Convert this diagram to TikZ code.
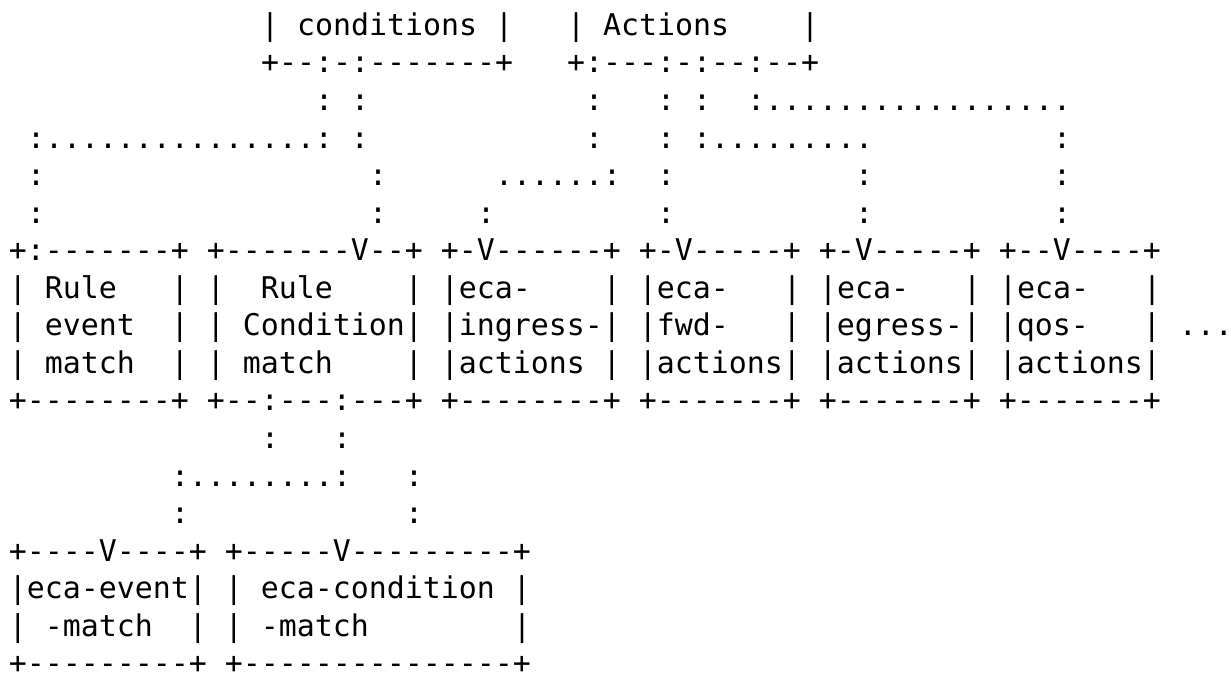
\documentclass[tikz,border=0pt]{standalone}
\usepackage{fontspec}
\newfontfamily\asciimono{DejaVu Sans Mono}
\newcommand\gapc[1]{\hskip#1\fontcharwd\font`\x\relax}
\newcommand\rpt[2]{\foreach \xx in {1,...,#1}{#2}}
\begin{document}
\begin{tikzpicture}[x=1pt,y=1pt,
  asciirow/.style={anchor=base west, inner sep=0pt, outer sep=0pt,
    font=\asciimono\fontsize{29.9pt}{37.6pt}\selectfont, text=black}]
\fill[white] (0,0) rectangle (1231,-674);
\useasboundingbox (0,0) rectangle (1231,-674);
\node[asciirow] (l1)  at (9,-35.3)  {\gapc{14}|~conditions~|\gapc{3}|~Actions\gapc{4}|};
\node[asciirow] (l2)  at (9,-72.9)  {\gapc{14}+--:-:-------+\gapc{3}+:---:-:--:--+};
\node[asciirow] (l3)  at (9,-110.4) {\gapc{17}:~:\gapc{12}:\gapc{3}:~:\gapc{2}:\rpt{17}{.}};
\node[asciirow] (l4)  at (9,-148.0) {\gapc{1}:\rpt{15}{.}:~:\gapc{12}:\gapc{3}:~:\rpt{9}{.}\gapc{10}:};
\node[asciirow] (l5)  at (9,-185.5) {\gapc{1}:\gapc{18}:\gapc{6}\rpt{6}{.}:\gapc{2}:\gapc{10}:\gapc{10}:};
\node[asciirow] (l6)  at (9,-223.1) {\gapc{1}:\gapc{18}:\gapc{5}:\gapc{9}:\gapc{10}:\gapc{10}:};
\node[asciirow] (l7)  at (9,-260.7) {+:-------+~+-------V--+~+-V------+~+-V-----+~+-V-----+~+--V----+};
\node[asciirow] (l8)  at (9,-298.2) {|~Rule\gapc{3}|~|\gapc{2}Rule\gapc{4}|~|eca-\gapc{4}|~|eca-\gapc{3}|~|eca-\gapc{3}|~|eca-\gapc{3}|};
\node[asciirow] (l9)  at (9,-335.8) {|~event\gapc{2}|~|~Condition|~|ingress-|~|fwd-\gapc{3}|~|egress-|~|qos-\gapc{3}|~...};
\node[asciirow] (l10) at (9,-373.3) {|~match\gapc{2}|~|~match\gapc{4}|~|actions~|~|actions|~|actions|~|actions|};
\node[asciirow] (l11) at (9,-410.9) {+--------+~+--:---:---+~+--------+~+-------+~+-------+~+-------+};
\node[asciirow] (l12) at (9,-448.5) {\gapc{14}:\gapc{3}:};
\node[asciirow] (l13) at (9,-486.0) {\gapc{9}:\rpt{8}{.}:\gapc{3}:};
\node[asciirow] (l14) at (9,-523.6) {\gapc{9}:\gapc{12}:};
\node[asciirow] (l15) at (9,-561.1) {+----V----+~+-----V---------+};
\node[asciirow] (l16) at (9,-598.7) {|eca-event|~|~eca-condition~|};
\node[asciirow] (l17) at (9,-636.2) {|~-match\gapc{2}|~|~-match\gapc{8}|};
\node[asciirow] (l18) at (9,-673.7) {+---------+~+---------------+};
\end{tikzpicture}
\end{document}
